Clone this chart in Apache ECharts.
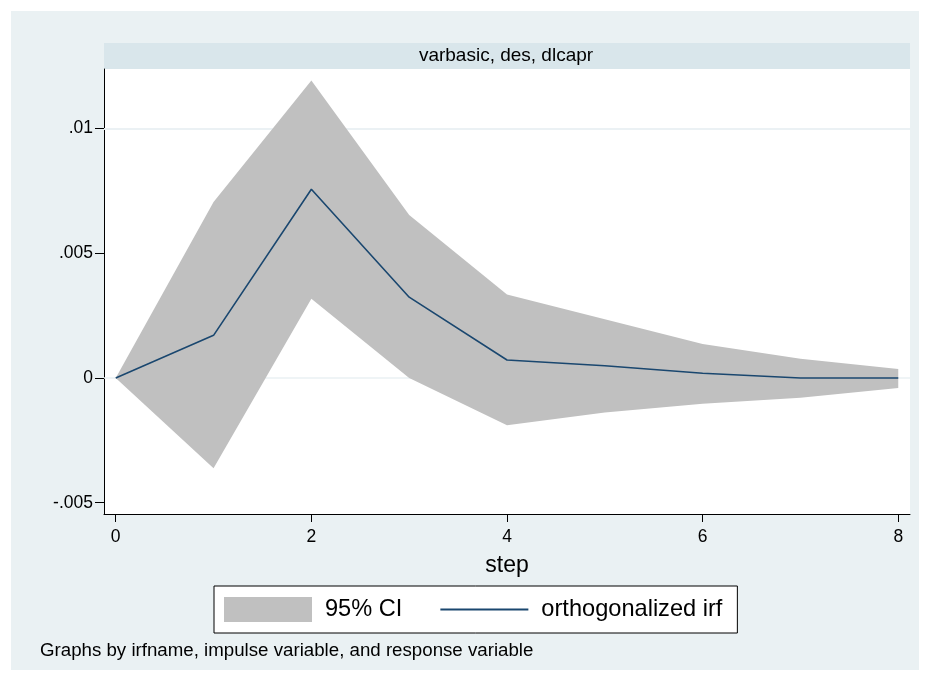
<!DOCTYPE html>
<html>
<head>
<meta charset="utf-8">
<style>
  html, body { margin: 0; padding: 0; background: #ffffff; }
  #chart { width: 930px; height: 681px; }
</style>
<script src="https://cdn.jsdelivr.net/npm/echarts@6/dist/echarts.min.js"></script>
</head>
<body>
<div id="chart"></div>
<script>
// Impulse response: varbasic, impulse des, response dlcapr
const steps = [0, 1, 2, 3, 4, 5, 6, 7, 8];
const irf   = [0, 0.00171, 0.00757, 0.00324, 0.00072, 0.00049, 0.00019, 0.0, 0.0];
const ciLow = [0, -0.00362, 0.00318, 0.0, -0.00189, -0.00138, -0.00103, -0.00079, -0.00040];
const ciUp  = [0, 0.00706, 0.01193, 0.00654, 0.00335, 0.00236, 0.00136, 0.00077, 0.00036];

const xTicks = [0, 2, 4, 6, 8];
const yTicks = [-0.005, 0, 0.005, 0.01];
const yTickText = { '-0.005': '-.005', '0': '0', '0.005': '.005', '0.01': '.01' };

const panelTitle = 'varbasic, des, dlcapr';
const noteText = 'Graphs by irfname, impulse variable, and response variable';

const FONT = '"Liberation Sans", Arial, sans-serif';
const BG = '#EAF1F3';
const CI_COLOR = '#C0C0C0';
const LINE_COLOR = '#1A476F';

const chart = echarts.init(document.getElementById('chart'), null, { renderer: 'canvas' });

const bandData = steps.map((s, i) => [s, ciLow[i], ciUp[i]]);

chart.setOption({
  animation: false,
  backgroundColor: '#ffffff',
  graphic: [
    { type: 'rect', z: -10, silent: true,
      shape: { x: 11, y: 11, width: 908, height: 659 },
      style: { fill: BG } },
    { type: 'rect', z: -9, silent: true,
      shape: { x: 104, y: 43, width: 806, height: 26 },
      style: { fill: '#D9E6EB' } },
    { type: 'text', z: 10, silent: true, x: 506, y: 56,
      style: { text: panelTitle, fill: '#000', font: '19px ' + FONT,
               align: 'center', verticalAlign: 'middle' } },
    { type: 'text', z: 10, silent: true, x: 40, y: 651,
      style: { text: noteText, fill: '#000', font: '18.7px ' + FONT,
               align: 'left', verticalAlign: 'middle' } }
  ],
  grid: {
    left: 104, top: 69, right: 20, bottom: 167,
    show: true, backgroundColor: '#ffffff', borderWidth: 0,
    containLabel: false
  },
  legend: {
    left: 214, top: 586,
    orient: 'horizontal',
    padding: [11, 15, 11, 10],
    borderColor: '#000', borderWidth: 1, backgroundColor: '#ffffff',
    itemWidth: 88, itemHeight: 25, itemGap: 38,
    symbolKeepAspect: true,
    textStyle: { fontFamily: FONT, fontSize: 23.6, color: '#000', padding: [0, 0, 0, 8] },
    selectedMode: false,
    data: [
      { name: '95% CI', icon: 'rect', itemStyle: { color: CI_COLOR } },
      { name: 'orthogonalized irf', icon: 'path://M0,0H100V2H0Z',
        itemStyle: { color: LINE_COLOR } }
    ]
  },
  xAxis: {
    type: 'value', min: -0.12, max: 8.12,
    name: 'step', nameLocation: 'middle', nameGap: 40,
    nameTextStyle: { fontFamily: FONT, fontSize: 23, color: '#000' },
    axisLine: { show: true, onZero: false, lineStyle: { color: '#000', width: 1 } },
    axisTick: { show: true, length: 8, customValues: xTicks, lineStyle: { color: '#000' } },
    axisLabel: { customValues: xTicks, margin: 14, fontFamily: FONT, fontSize: 17.5, color: '#000' },
    splitLine: { show: false }
  },
  yAxis: {
    type: 'value', min: -0.005453, max: 0.01239,
    axisLine: { show: true, onZero: false, lineStyle: { color: '#000', width: 1 } },
    axisTick: { show: true, length: 9, customValues: yTicks, lineStyle: { color: '#000' } },
    axisLabel: {
      customValues: yTicks, margin: 11, fontFamily: FONT, fontSize: 17.5, color: '#000',
      formatter: v => yTickText[String(v)] !== undefined ? yTickText[String(v)] : String(v)
    },
    splitLine: { show: false }
  },
  series: [
    {
      name: '95% CI',
      type: 'custom',
      z: 2,
      data: bandData,
      encode: { x: 0, y: [1, 2] },
      itemStyle: { color: CI_COLOR },
      markLine: {
        silent: true, symbol: 'none', label: { show: false },
        lineStyle: { color: '#EAF1F3', width: 1.5, type: 'solid' },
        z: 1,
        data: yTicks.map(v => ({ yAxis: v }))
      },
      renderItem: function (params, api) {
        if (params.dataIndex !== 0) return null;
        const pts = [];
        for (let i = 0; i < steps.length; i++) pts.push(api.coord([steps[i], ciUp[i]]));
        for (let i = steps.length - 1; i >= 0; i--) pts.push(api.coord([steps[i], ciLow[i]]));
        return {
          type: 'polygon',
          shape: { points: pts },
          style: { fill: CI_COLOR }
        };
      }
    },
    {
      name: 'orthogonalized irf',
      type: 'line',
      z: 5,
      data: steps.map((s, i) => [s, irf[i]]),
      showSymbol: false,
      symbol: 'none',
      lineStyle: { color: LINE_COLOR, width: 1.6 },
      itemStyle: { color: LINE_COLOR }
    }
  ]
});
</script>
</body>
</html>
